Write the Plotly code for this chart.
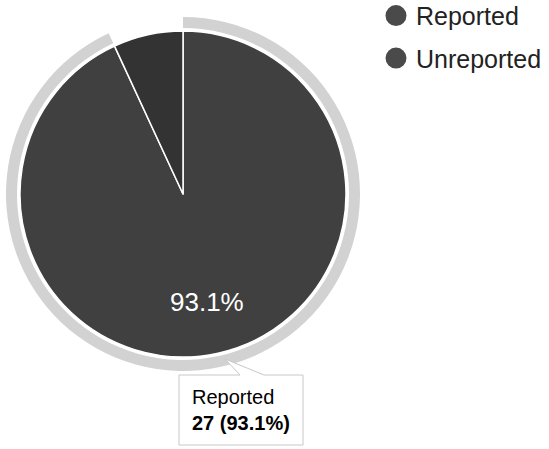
import math
import plotly.graph_objects as go

# ---- data ----
labels = ["Reported", "Unreported"]
values = [27, 2]
slice_colors = ["#404040", "#333333"]
legend_colors = ["#4a4a4a", "#4a4a4a"]
highlight_index = 0  # slice shown as hovered (ring + tooltip)

W, H = 549, 449
FONT = "Arial, Liberation Sans, sans-serif"

# geometry (pixels)
cx, cy = 183, 194
r_pie = 163
r_ring_out = 177
r_ring_in = 166
label_frac = 0.68


def dom(r):
    x0 = max(cx - r, 0) / W
    x1 = min(cx + r, W) / W
    y0 = (H - cy - r) / H
    y1 = (H - cy + r) / H
    return dict(x=[x0, x1], y=[y0, y1])


def px(x):
    return x / W


def py(y):
    return 1 - y / H


total = sum(values)
pct = [v / total for v in values]

fig = go.Figure()

# hover highlight ring around the highlighted slice
ring_colors = ["#d2d2d2" if i == highlight_index else "rgba(0,0,0,0)" for i in range(len(values))]
fig.add_trace(go.Pie(
    labels=labels, values=values, sort=False, direction="clockwise", rotation=0,
    hole=r_ring_in / r_ring_out, domain=dom(r_ring_out),
    marker=dict(colors=ring_colors, line=dict(width=0)),
    textinfo="none", hoverinfo="skip", showlegend=False,
))

# main pie
fig.add_trace(go.Pie(
    labels=labels, values=values, sort=False, direction="clockwise", rotation=0,
    domain=dom(r_pie),
    marker=dict(colors=slice_colors, line=dict(color="white", width=1.5)),
    textinfo="none", hoverinfo="skip", showlegend=False,
))

# slice percentage labels (only for slices big enough), placed along the slice mid-angle
cum = 0.0
for i, p in enumerate(pct):
    mid = (cum + p / 2) * 2 * math.pi
    cum += p
    if p < 0.1:
        continue
    lx = cx + label_frac * r_pie * math.sin(mid)
    ly = cy - label_frac * r_pie * math.cos(mid)
    fig.add_annotation(
        x=px(lx), y=py(ly), xref="paper", yref="paper", showarrow=False,
        xanchor="center", yanchor="middle",
        text=f"{p*100:.1f}%", font=dict(family=FONT, size=26, color="white"),
    )

# legend entries with circle symbols
for i, lab in enumerate(labels):
    fig.add_trace(go.Scatter(
        x=[None], y=[None], mode="markers", name=lab, legendgroup=lab,
        marker=dict(symbol="circle", size=16, color=legend_colors[i],
                    line=dict(color=legend_colors[i], width=5)),
        hoverinfo="skip",
    ))

# tooltip callout box for highlighted slice
bx0, by0, bx1, by1 = 179, 375, 303, 445
tip = (225, 359)
p0, p1 = 240, 264

path = (f"M {px(bx0)},{py(by0)} L {px(p0)},{py(by0)} L {px(tip[0])},{py(tip[1])} "
        f"L {px(p1)},{py(by0)} L {px(bx1)},{py(by0)} L {px(bx1)},{py(by1)} "
        f"L {px(bx0)},{py(by1)} Z")
fig.add_shape(type="path", path=path, xref="paper", yref="paper",
              fillcolor="white", line=dict(color="#c8c8c8", width=1))

lab = labels[highlight_index]
val = values[highlight_index]
fig.add_annotation(
    x=px(bx0 + 11), y=py((by0 + by1) / 2), xref="paper", yref="paper",
    xanchor="left", yanchor="middle", align="left", showarrow=False,
    text=f"{lab}<br><b>{val} ({pct[highlight_index]*100:.1f}%)</b>",
    font=dict(family=FONT, size=20, color="#000000"),
)

fig.update_layout(
    width=W, height=H,
    margin=dict(l=0, r=0, t=0, b=0, autoexpand=False),
    paper_bgcolor="white", plot_bgcolor="white",
    xaxis=dict(visible=False), yaxis=dict(visible=False),
    showlegend=True,
    legend=dict(x=376 / W, y=1.016, xanchor="left", yanchor="top",
                font=dict(family=FONT, size=25, color="#222222"),
                traceorder="grouped", tracegroupgap=7,
                bgcolor="rgba(0,0,0,0)"),
    font=dict(family=FONT),
)

fig.write_html("out.html", config={"displayModeBar": False},
               post_script="document.body.style.margin='0px';")
